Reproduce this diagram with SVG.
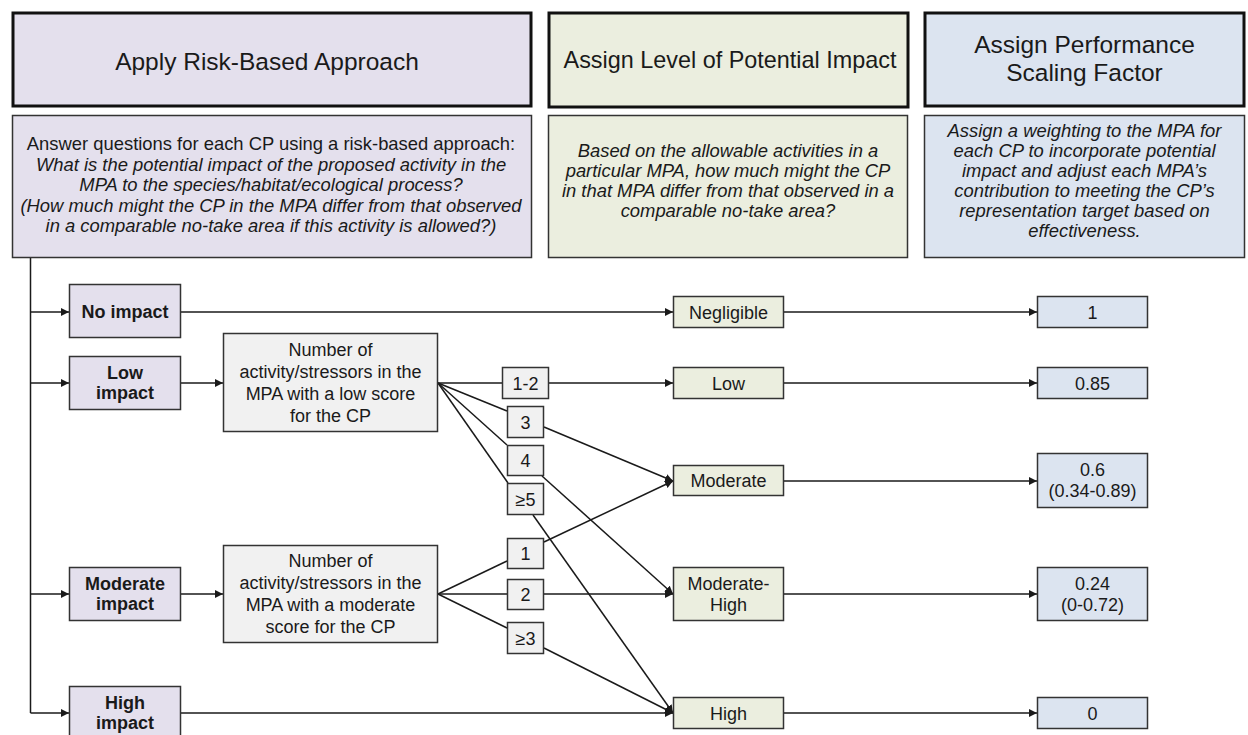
<svg xmlns="http://www.w3.org/2000/svg" width="1248" height="735" viewBox="0 0 1248 735">
<defs>
<marker id="arr" viewBox="0 0 10 10" refX="10" refY="5" markerWidth="8" markerHeight="8" markerUnits="userSpaceOnUse" orient="auto">
<path d="M0,0 L10,5 L0,10 z" fill="#1a1a1a"/>
</marker>
</defs>
<style>
text{font-family:"Liberation Sans",Arial,sans-serif;fill:#1a1a1a;text-anchor:middle}
.hd{stroke:#111;stroke-width:3}
.ds{stroke:#333;stroke-width:1.5}
.bx{stroke:#333;stroke-width:1.5}
.pu{fill:#e4e0ed}
.gr{fill:#ebeedf}
.bl{fill:#dce4f0}
.gy{fill:#f1f1f1}
.h{font-size:24.5px}
.h2{font-size:23.4px}
.d{font-size:18.4px}
.i{font-style:italic}
.b{font-weight:bold}
.s{font-size:18px}
.c{stroke:#1a1a1a;stroke-width:1.5;fill:none}
.ca{stroke:#1a1a1a;stroke-width:1.5;fill:none;marker-end:url(#arr)}
</style>
<rect width="1248" height="735" fill="#ffffff"/>

<g id="connectors">
<line class="c" x1="30.5" y1="258" x2="30.5" y2="713"/>
<line class="ca" x1="30.5" y1="312" x2="69" y2="312"/>
<line class="ca" x1="30.5" y1="383" x2="69" y2="383"/>
<line class="ca" x1="30.5" y1="594" x2="69" y2="594"/>
<line class="ca" x1="30.5" y1="713" x2="69" y2="713"/>
<line class="ca" x1="181" y1="312" x2="673" y2="312"/>
<line class="ca" x1="181" y1="383" x2="223" y2="383"/>
<line class="ca" x1="181" y1="594" x2="223" y2="594"/>
<line class="ca" x1="181" y1="713" x2="673" y2="713"/>
<line class="c" x1="438" y1="383" x2="502" y2="383"/>
<line class="ca" x1="549" y1="383" x2="673" y2="383"/>
<line class="c" x1="438" y1="383" x2="507" y2="411"/>
<line class="c" x1="438" y1="383" x2="507" y2="445"/>
<line class="c" x1="438" y1="383" x2="508" y2="483"/>
<line class="ca" x1="544" y1="427" x2="673" y2="481"/>
<line class="ca" x1="542" y1="476" x2="673" y2="594"/>
<line class="ca" x1="533" y1="515" x2="673" y2="713"/>
<line class="c" x1="438" y1="594" x2="507" y2="561"/>
<line class="c" x1="438" y1="594" x2="507" y2="594"/>
<line class="c" x1="438" y1="594" x2="507" y2="628"/>
<line class="ca" x1="544" y1="542" x2="673" y2="481"/>
<line class="ca" x1="544" y1="594" x2="673" y2="594"/>
<line class="ca" x1="544" y1="648" x2="673" y2="713"/>
<line class="ca" x1="784" y1="312" x2="1037" y2="312"/>
<line class="ca" x1="784" y1="383" x2="1037" y2="383"/>
<line class="ca" x1="784" y1="481" x2="1037" y2="481"/>
<line class="ca" x1="784" y1="594" x2="1037" y2="594"/>
<line class="ca" x1="784" y1="713" x2="1037" y2="713"/>
</g>

<g id="hdr-risk">
<rect class="hd pu" x="13" y="13" width="518" height="93"/>
<text class="h" x="267" y="70">Apply Risk-Based Approach</text>
</g>
<g id="hdr-impact">
<rect class="hd gr" x="549" y="13" width="359" height="94"/>
<text class="h2" x="730" y="68">Assign Level of Potential Impact</text>
</g>
<g id="hdr-scaling">
<rect class="hd bl" x="925" y="13" width="319" height="93"/>
<text class="h" x="1084.5" y="53">Assign Performance</text>
<text class="h" x="1084.5" y="81">Scaling Factor</text>
</g>

<g id="desc-risk">
<rect class="ds pu" x="12.5" y="115.5" width="519" height="142"/>
<text class="d" x="271" y="150">Answer questions for each CP using a risk-based approach:</text>
<text class="d i" x="271" y="170.5">What is the potential impact of the proposed activity in the</text>
<text class="d i" x="271" y="191">MPA to the species/habitat/ecological process?</text>
<text class="d i" x="271" y="211.5">(How much might the CP in the MPA differ from that observed</text>
<text class="d i" x="271" y="232">in a comparable no-take area if this activity is allowed?)</text>
</g>
<g id="desc-impact">
<rect class="ds gr" x="548.5" y="115.5" width="359" height="142"/>
<text class="d i" x="728" y="157">Based on the allowable activities in a</text>
<text class="d i" x="728" y="177">particular MPA, how much might the CP</text>
<text class="d i" x="728" y="197">in that MPA differ from that observed in a</text>
<text class="d i" x="728" y="217">comparable no-take area?</text>
</g>
<g id="desc-scaling">
<rect class="ds bl" x="924.5" y="115.5" width="320" height="142"/>
<text class="d i" x="1084.5" y="137">Assign a weighting to the MPA for</text>
<text class="d i" x="1084.5" y="157">each CP to incorporate potential</text>
<text class="d i" x="1084.5" y="177">impact and adjust each MPA’s</text>
<text class="d i" x="1084.5" y="197">contribution to meeting the CP’s</text>
<text class="d i" x="1084.5" y="217">representation target based on</text>
<text class="d i" x="1084.5" y="237">effectiveness.</text>
</g>

<g id="no-impact">
<rect class="bx pu" x="69.5" y="284.5" width="111" height="53"/>
<text class="s b" x="125" y="317.5">No impact</text>
</g>
<g id="low-impact">
<rect class="bx pu" x="69.5" y="356.5" width="111" height="53"/>
<text class="s b" x="125" y="379">Low</text>
<text class="s b" x="125" y="399">impact</text>
</g>
<g id="moderate-impact">
<rect class="bx pu" x="69.5" y="567.5" width="111" height="53"/>
<text class="s b" x="125" y="590">Moderate</text>
<text class="s b" x="125" y="610">impact</text>
</g>
<g id="high-impact">
<rect class="bx pu" x="69.5" y="686.5" width="111" height="54"/>
<text class="s b" x="125" y="709">High</text>
<text class="s b" x="125" y="729">impact</text>
</g>

<g id="num-low">
<rect class="bx gy" x="223.5" y="333.5" width="214" height="98"/>
<text class="s" x="330.5" y="356">Number of</text>
<text class="s" x="330.5" y="378">activity/stressors in the</text>
<text class="s" x="330.5" y="400">MPA with a low score</text>
<text class="s" x="330.5" y="422">for the CP</text>
</g>
<g id="num-moderate">
<rect class="bx gy" x="223.5" y="545.5" width="214" height="97"/>
<text class="s" x="330.5" y="567">Number of</text>
<text class="s" x="330.5" y="589">activity/stressors in the</text>
<text class="s" x="330.5" y="611">MPA with a moderate</text>
<text class="s" x="330.5" y="633">score for the CP</text>
</g>

<g id="cnt-1-2"><rect class="bx gy" x="502.5" y="367.5" width="46" height="31"/><text class="s" x="525.5" y="389.5">1-2</text></g>
<g id="cnt-3"><rect class="bx gy" x="507.5" y="406.5" width="36" height="31"/><text class="s" x="525.5" y="428.5">3</text></g>
<g id="cnt-4"><rect class="bx gy" x="507.5" y="445.5" width="36" height="30"/><text class="s" x="525.5" y="467">4</text></g>
<g id="cnt-ge5"><rect class="bx gy" x="507.5" y="483.5" width="36" height="31"/><text class="s" x="525.5" y="505.5">≥5</text></g>
<g id="cnt-1"><rect class="bx gy" x="507.5" y="538.5" width="36" height="30"/><text class="s" x="525.5" y="560">1</text></g>
<g id="cnt-2"><rect class="bx gy" x="507.5" y="579.5" width="36" height="30"/><text class="s" x="525.5" y="601">2</text></g>
<g id="cnt-ge3"><rect class="bx gy" x="507.5" y="622.5" width="36" height="31"/><text class="s" x="525.5" y="644.5">≥3</text></g>

<g id="lvl-negligible"><rect class="bx gr" x="673.5" y="296.5" width="110" height="31"/><text class="s" x="728.5" y="318.5">Negligible</text></g>
<g id="lvl-low"><rect class="bx gr" x="673.5" y="367.5" width="110" height="31"/><text class="s" x="728.5" y="389.5">Low</text></g>
<g id="lvl-moderate"><rect class="bx gr" x="673.5" y="465.5" width="110" height="30"/><text class="s" x="728.5" y="487">Moderate</text></g>
<g id="lvl-modhigh"><rect class="bx gr" x="673.5" y="567.5" width="110" height="53"/><text class="s" x="728.5" y="590">Moderate-</text><text class="s" x="728.5" y="611">High</text></g>
<g id="lvl-high"><rect class="bx gr" x="673.5" y="697.5" width="110" height="31"/><text class="s" x="728.5" y="719.5">High</text></g>

<g id="psf-1"><rect class="bx bl" x="1037.5" y="296.5" width="110" height="31"/><text class="s" x="1092.5" y="318.5">1</text></g>
<g id="psf-085"><rect class="bx bl" x="1037.5" y="367.5" width="110" height="31"/><text class="s" x="1092.5" y="389.5">0.85</text></g>
<g id="psf-06"><rect class="bx bl" x="1037.5" y="453.5" width="110" height="54"/><text class="s" x="1092.5" y="476">0.6</text><text class="s" x="1092.5" y="497">(0.34-0.89)</text></g>
<g id="psf-024"><rect class="bx bl" x="1037.5" y="567.5" width="110" height="53"/><text class="s" x="1092.5" y="590">0.24</text><text class="s" x="1092.5" y="611">(0-0.72)</text></g>
<g id="psf-0"><rect class="bx bl" x="1037.5" y="697.5" width="110" height="31"/><text class="s" x="1092.5" y="719.5">0</text></g>
</svg>
